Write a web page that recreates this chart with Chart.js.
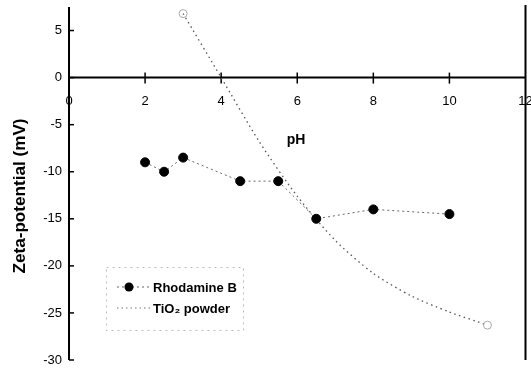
<!DOCTYPE html>
<html>
<head>
<meta charset="utf-8">
<script src="https://cdn.jsdelivr.net/npm/chart.js@4"></script>
<style>
html,body{margin:0;padding:0;background:#fff;}
#wrap{width:531px;height:369px;position:relative;}
</style>
</head>
<body>
<div id="wrap"><canvas id="c" width="531" height="369"></canvas></div>
<script>
// ---- data ----
const rhodaminePH   = [2, 2.5, 3, 4.5, 5.5, 6.5, 8, 10];
const rhodamineZeta = [-9, -10, -8.5, -11, -11, -15, -14, -14.5];
const tio2PH   = [3, 4, 5, 6, 7, 8, 9, 10, 11];
const tio2Zeta = [6.8, 0, -6.8, -12.6, -17.3, -20.8, -23.2, -24.9, -26.3];
const xTicks = [0, 2, 4, 6, 8, 10, 12];
const yTicks = [5, 0, -5, -10, -15, -20, -25, -30];
const seriesNames = ['Rhodamine B', 'TiO\u2082 powder'];
const xTitle = 'pH';
const yTitle = 'Zeta-potential (mV)';

const FONT = '"Liberation Sans", Arial, sans-serif';

const decor = {
  id: 'decor',
  beforeDatasetsDraw(chart) {
    const {ctx, chartArea: a, scales: {x, y}} = chart;
    ctx.save();
    ctx.strokeStyle = '#000';
    ctx.lineWidth = 2;
    const y0 = y.getPixelForValue(0);
    ctx.beginPath(); ctx.moveTo(a.left, a.top); ctx.lineTo(a.left, a.bottom); ctx.stroke();
    ctx.beginPath(); ctx.moveTo(a.right, a.top - 2); ctx.lineTo(a.right, a.bottom); ctx.stroke();
    ctx.beginPath(); ctx.moveTo(a.left, y0); ctx.lineTo(a.right, y0); ctx.stroke();
    ctx.lineWidth = 1.5;
    yTicks.forEach(v => {
      const py = y.getPixelForValue(v);
      ctx.beginPath(); ctx.moveTo(a.left, py); ctx.lineTo(a.left + 5, py); ctx.stroke();
    });
    xTicks.forEach(v => {
      if (v === 0 || v === 12) return;
      const px = x.getPixelForValue(v);
      ctx.beginPath(); ctx.moveTo(px, y0 - 5); ctx.lineTo(px, y0 + 6); ctx.stroke();
    });
    ctx.restore();
  },
  afterDraw(chart) {
    const {ctx, scales: {x, y}} = chart;
    ctx.save();
    ctx.fillStyle = '#000';
    ctx.font = 'bold 14px ' + FONT;
    ctx.textAlign = 'center';
    ctx.textBaseline = 'middle';
    ctx.fillText(xTitle, x.getPixelForValue(5.97), y.getPixelForValue(-6.6));
    ctx.save();
    ctx.translate(21, 196);
    ctx.rotate(-Math.PI / 2);
    ctx.scale(1.07, 1);
    ctx.font = 'bold 16px ' + FONT;
    ctx.fillText(yTitle, 0, 0);
    ctx.restore();
    // legend
    const lx = 106, ly = 267, lw = 137, lh = 63;
    ctx.strokeStyle = '#bbb';
    ctx.lineWidth = 1;
    ctx.setLineDash([2, 4]);
    ctx.strokeRect(lx + 0.5, ly + 0.5, lw, lh);
    ctx.setLineDash([2, 3]);
    ctx.strokeStyle = '#666';
    ctx.beginPath(); ctx.moveTo(117, 287); ctx.lineTo(150, 287); ctx.stroke();
    ctx.setLineDash([]);
    ctx.fillStyle = '#000';
    ctx.beginPath(); ctx.arc(129, 287, 4.5, 0, Math.PI * 2); ctx.fill();
    ctx.setLineDash([1.5, 3]);
    ctx.strokeStyle = '#777';
    ctx.beginPath(); ctx.moveTo(117, 308); ctx.lineTo(150, 308); ctx.stroke();
    ctx.setLineDash([]);
    ctx.fillStyle = '#000';
    ctx.font = 'bold 13px ' + FONT;
    ctx.textAlign = 'left';
    ctx.fillText(seriesNames[0], 153, 288);
    ctx.fillText(seriesNames[1], 153, 309);
    ctx.restore();
  }
};

new Chart(document.getElementById('c'), {
  type: 'line',
  data: {
    datasets: [
      {
        label: seriesNames[0],
        data: rhodaminePH.map((p, i) => ({x: p, y: rhodamineZeta[i]})),
        borderColor: '#666',
        borderWidth: 1,
        borderDash: [2, 3],
        pointRadius: 4.5,
        pointBackgroundColor: '#000',
        pointBorderColor: '#000',
        tension: 0
      },
      {
        label: seriesNames[1],
        data: tio2PH.map((p, i) => ({x: p, y: tio2Zeta[i]})),
        borderColor: '#555',
        borderWidth: 1.3,
        borderDash: [1.5, 3.5],
        pointRadius: tio2PH.map((p, i) => (i === 0 || i === tio2PH.length - 1) ? 4 : 0),
        pointBackgroundColor: 'rgba(0,0,0,0)',
        pointBorderColor: '#aaa',
        pointBorderWidth: 1,
        tension: 0.25
      }
    ]
  },
  options: {
    responsive: false,
    animation: false,
    clip: false,
    layout: {padding: {left: 0, right: 5, top: 7, bottom: 9}},
    plugins: {legend: {display: false}, tooltip: {enabled: false}},
    scales: {
      x: {
        type: 'linear',
        min: 0, max: 12,
        position: {y: 0},
        grid: {display: false, drawTicks: false},
        border: {display: false},
        afterFit: s => { s.height = 0; s.paddingLeft = 0; s.paddingRight = 0; s.paddingTop = 0; s.paddingBottom = 0; },
        afterBuildTicks: s => { s.ticks = xTicks.map(v => ({value: v})); },
        ticks: {color: '#000', font: {family: FONT, size: 13}, padding: 16, maxRotation: 0, autoSkip: false}
      },
      y: {
        type: 'linear',
        min: -30, max: 7.5,
        position: 'left',
        grid: {display: false, drawTicks: false},
        border: {display: false},
        afterFit: s => { s.width = 69; s.paddingLeft = 0; s.paddingRight = 0; s.paddingTop = 0; s.paddingBottom = 0; },
        afterBuildTicks: s => { s.ticks = yTicks.map(v => ({value: v})); },
        ticks: {color: '#000', font: {family: FONT, size: 13}, padding: 7}
      }
    }
  },
  plugins: [decor]
});
</script>
</body>
</html>
